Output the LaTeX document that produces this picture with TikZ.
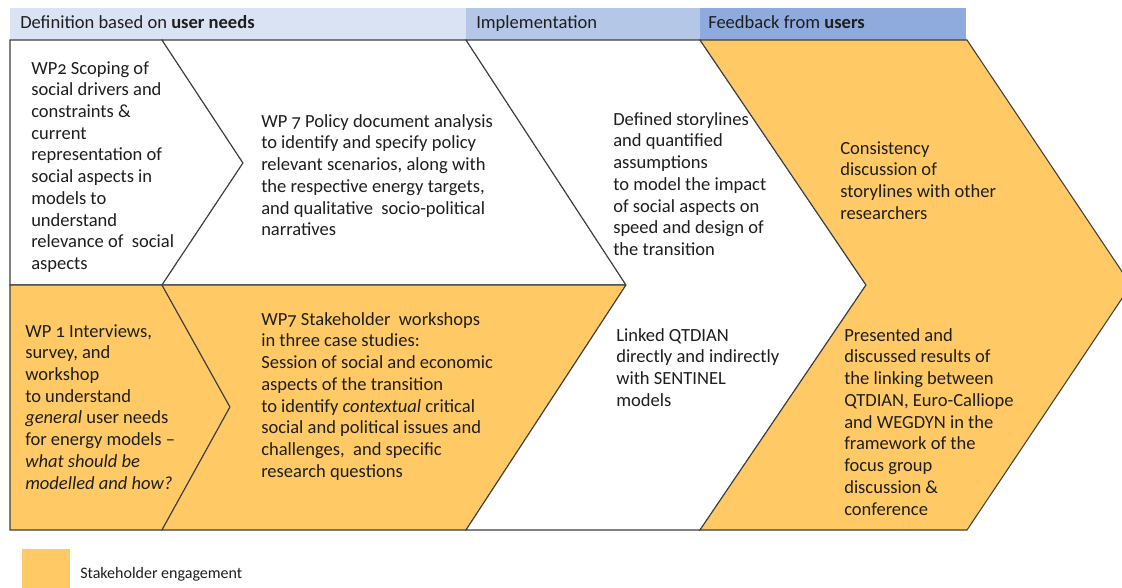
\documentclass[tikz,border=0pt]{standalone}
\usepackage{fontspec}
\setmainfont{Carlito}[Numbers=OldStyle]
\definecolor{headA}{HTML}{DAE3F3}
\definecolor{headB}{HTML}{B4C7E7}
\definecolor{headC}{HTML}{8FAADC}
\definecolor{engage}{HTML}{FFCA66}
\definecolor{edge}{HTML}{3F3F3F}
\definecolor{ink}{HTML}{1E1E1E}
\tikzset{
  stage/.style={draw=edge, line width=0.8pt},
  blank/.style={stage, fill=white},
  engaged/.style={stage, fill=engage},
  txt/.style={anchor=north west, inner sep=0pt, align=left, text=ink,
    font=\fontsize{13.9}{16.3}\selectfont},
  head/.style={anchor=base west, inner sep=0pt, text=ink,
    font=\fontsize{13.9}{16.3}\selectfont},
}

\begin{document}
\begin{tikzpicture}[x=0.75pt, y=-0.75pt]
  \useasboundingbox (0,0) rectangle (1122,588);
  \clip (0,0) rectangle (1122,588);

  % Header bands
  \fill[headA] (10,8) rectangle (466,40);
  \fill[headB] (466,8) rectangle (700,40);
  \fill[headC] (700,8) rectangle (966,40);
  \node[head] (hdef) at (20,29) {Definition based on \textbf{user needs}};
  \node[head] (himp) at (476,29) {Implementation};
  \node[head] (hfeed) at (708,29) {Feedback from \textbf{users}};

  % Chevron shapes
  \filldraw[blank] (10,40) -- (162,40) -- (243,163) -- (162,285) -- (10,285) -- cycle;
  \filldraw[blank] (162,40) -- (466,40) -- (626,285) -- (162,285) -- (243,163) -- cycle;
  \filldraw[engaged] (10,285) -- (162,285) -- (230,407) -- (162,530) -- (10,530) -- cycle;
  \filldraw[engaged] (162,285) -- (626,285) -- (466,530) -- (162,530) -- (230,407) -- cycle;
  \filldraw[blank] (466,40) -- (700,40) -- (866,285) -- (700,530) -- (466,530) -- (626,285) -- cycle;
  \filldraw[engaged] (700,40) -- (967,40) -- (1131,285) -- (967,530) -- (700,530) -- (866,285) -- cycle;

  % Texts
  \node[txt] (scoping) at (31,61) {WP2 Scoping of\\social drivers and\\constraints \&\\current\\representation of\\social aspects in\\models to\\understand\\relevance of\ \ social\\aspects};
  \node[txt] (policy) at (261,114) {WP 7 Policy document analysis\\to identify and specify policy\\relevant scenarios, along with\\the respective energy targets,\\and qualitative\ \ socio-political\\narratives};
  \node[txt] (interviews) at (25,324) {WP 1 Interviews,\\survey, and\\workshop\\to understand\\\textit{general} user needs\\for energy models --\\\textit{what should be}\\\textit{modelled and how?}};
  \node[txt] (workshops) at (261,312) {WP7 Stakeholder\ \ workshops\\in three case studies:\\Session of social and economic\\aspects of the transition\\to identify \textit{contextual} critical\\social and political issues and\\challenges,\ \ and specific\\research questions};
  \node[txt] (storylines) at (613,112) {Defined storylines\\and quantified\\assumptions\\to model the impact\\of social aspects on\\speed and design of\\the transition};
  \node[txt] (linked) at (616,328) {Linked QTDIAN\\directly and indirectly\\with SENTINEL\\models};
  \node[txt] (consistency) at (840,141) {Consistency\\discussion of\\storylines with other\\researchers};
  \node[txt] (presented) at (844,328) {Presented and\\discussed results of\\the linking between\\QTDIAN, Euro-Calliope\\and WEGDYN in the\\framework of the\\focus group\\discussion \&\\conference};

  % Legend
  \fill[engage] (22,549) rectangle (70,590);
  \node[anchor=base west, inner sep=0pt, text=ink, font=\fontsize{12}{14}\selectfont] (legend) at (80,578) {Stakeholder engagement};
\end{tikzpicture}
\end{document}
